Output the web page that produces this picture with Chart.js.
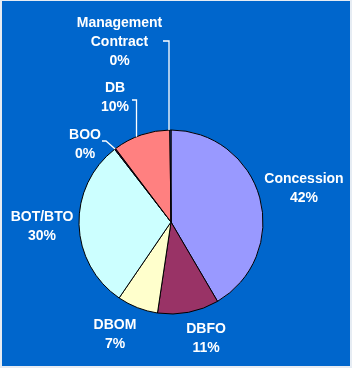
<!DOCTYPE html>
<html>
<head>
<meta charset="utf-8">
<script src="https://cdn.jsdelivr.net/npm/chart.js@4/dist/chart.umd.min.js"></script>
<style>
html,body{margin:0;padding:0;background:#E6ECF3;}
#wrap{width:352px;height:368px;position:relative;}
canvas{display:block;}
</style>
</head>
<body>
<div id="wrap"><canvas id="c" width="352" height="368"></canvas></div>
<script>
// ---- data ----
const categories = ["Concession", "DBFO", "DBOM", "BOT/BTO", "BOO", "DB", "Management Contract"];
const labelLines = [["Concession"], ["DBFO"], ["DBOM"], ["BOT/BTO"], ["BOO"], ["DB"], ["Management", "Contract"]];
const shares = [41.6, 10.8, 7.2, 30, 0.2, 10.1, 0.2];
const sliceColors = ["#9999FF", "#993366", "#FFFFCC", "#CCFFFF", "#660066", "#FF8080", "#3366CC"];

// label placement (style): text centre x, first line y, optional leader
const labelStyle = [
  {x: 304, y: 179},
  {x: 206, y: 329},
  {x: 115, y: 325},
  {x: 42,  y: 217},
  {x: 85,  y: 135, leader: {fromX: 102, y: 141, elbowX: 106, mode: 'mid'}},
  {x: 115, y: 88,  leader: {fromX: 132, y: 100, elbowX: 136.5, mode: 'vertical'}},
  {x: 119.5, y: 23, leader: {fromX: 163, y: 41, elbowX: 169, mode: 'vertical'}}
];

const total = shares.reduce((a, b) => a + b, 0);
const FONT = "bold 14px 'Liberation Sans', Arial, sans-serif";
const LINE_H = 19;

const bgPlugin = {
  id: 'bg',
  beforeDraw(chart) {
    const ctx = chart.ctx;
    ctx.save();
    ctx.fillStyle = '#0066CC';
    ctx.fillRect(2, 1, 348, 365);
    ctx.restore();
  }
};

const labelPlugin = {
  id: 'pieLabels',
  afterDatasetsDraw(chart) {
    const ctx = chart.ctx;
    const meta = chart.getDatasetMeta(0);
    ctx.save();
    ctx.font = FONT;
    ctx.fillStyle = '#FFFFFF';
    ctx.textAlign = 'center';
    ctx.textBaseline = 'middle';
    meta.data.forEach((arc, i) => {
      const st = labelStyle[i];
      const pct = Math.round(shares[i] / total * 100) + '%';
      const lines = labelLines[i].concat([pct]);
      lines.forEach((t, k) => ctx.fillText(t, st.x, st.y + k * LINE_H));
      if (st.leader) {
        const L = st.leader;
        const p = arc.getProps(['x', 'y', 'startAngle', 'endAngle', 'outerRadius'], true);
        let ex, ey;
        if (L.mode === 'mid') {
          const a = (p.startAngle + p.endAngle) / 2;
          ex = p.x + Math.cos(a) * p.outerRadius;
          ey = p.y + Math.sin(a) * p.outerRadius;
        } else {
          ex = L.elbowX;
          const dx = ex - p.x;
          ey = p.y - Math.sqrt(Math.max(p.outerRadius * p.outerRadius - dx * dx, 0));
        }
        ctx.strokeStyle = '#FFFFFF';
        ctx.lineWidth = 1.3;
        ctx.beginPath();
        ctx.moveTo(L.fromX, L.y);
        ctx.lineTo(L.elbowX, L.y);
        ctx.lineTo(ex, ey);
        ctx.stroke();
      }
    });
    ctx.restore();
  }
};

new Chart(document.getElementById('c'), {
  type: 'pie',
  data: {
    labels: categories,
    datasets: [{
      data: shares,
      backgroundColor: sliceColors,
      borderColor: '#000000',
      borderWidth: 1
    }]
  },
  options: {
    responsive: false,
    animation: false,
    devicePixelRatio: 1,
    layout: {padding: {left: 78.5, top: 129.5, right: 88.5, bottom: 53.5}},
    plugins: {legend: {display: false}, tooltip: {enabled: false}}
  },
  plugins: [bgPlugin, labelPlugin]
});
</script>
</body>
</html>
